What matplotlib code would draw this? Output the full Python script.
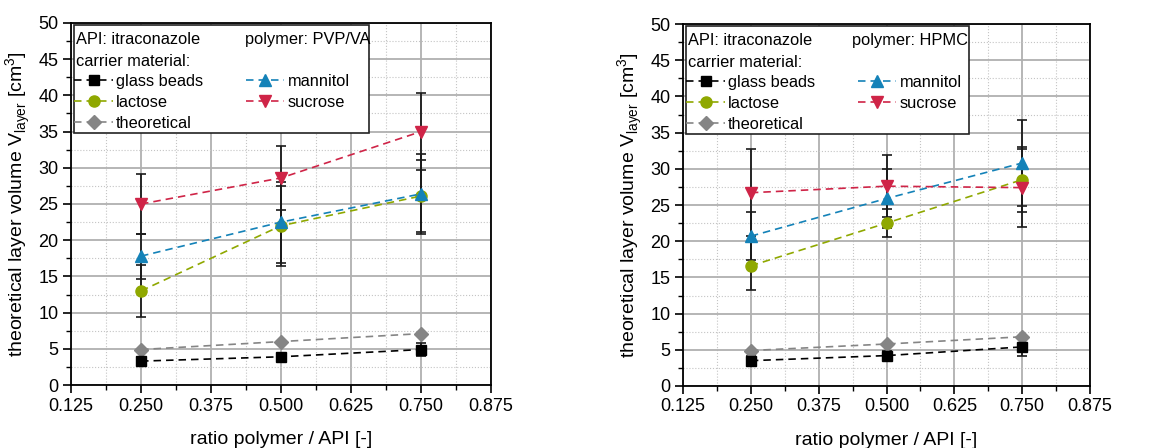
import matplotlib.pyplot as plt
from matplotlib.patches import Rectangle
from matplotlib.ticker import MultipleLocator, FormatStrFormatter

plt.rcParams['font.family'] = ['Liberation Sans', 'DejaVu Sans']
plt.rcParams['mathtext.fontset'] = 'custom'
plt.rcParams['mathtext.rm'] = 'Liberation Sans'

# ratio polymer / API
ratio = [0.25, 0.5, 0.75]

# PVP/VA panel
pvp_glass = [3.3, 3.9, 4.9]
pvp_glass_err = [0.5, 0.4, 0.9]
pvp_lactose = [13.0, 22.0, 26.1]
pvp_lactose_err = [3.6, 5.5, 5.0]
pvp_mannitol = [17.8, 22.5, 26.4]
pvp_mannitol_err = [3.1, 5.6, 5.5]
pvp_sucrose = [25.0, 28.6, 35.0]
pvp_sucrose_err = [4.1, 4.4, 5.3]
pvp_theo = [4.9, 6.0, 7.1]

# HPMC panel
hpmc_glass = [3.5, 4.2, 5.4]
hpmc_glass_err = [0.7, 0.6, 1.3]
hpmc_lactose = [16.6, 22.5, 28.5]
hpmc_lactose_err = [3.4, 1.9, 4.5]
hpmc_mannitol = [20.7, 25.9, 30.8]
hpmc_mannitol_err = [3.3, 4.1, 5.9]
hpmc_sucrose = [26.7, 27.6, 27.4]
hpmc_sucrose_err = [6.0, 4.3, 5.4]
hpmc_theo = [4.9, 5.8, 6.8]

c_glass = '#000000'
c_lac = '#8fa800'
c_man = '#1482b8'
c_suc = '#cf2447'
c_theo = '#858585'

fig = plt.figure(figsize=(11.61, 4.48), dpi=100)
ax1 = fig.add_axes([0.0612, 0.1406, 0.3617, 0.8081])
ax2 = fig.add_axes([0.5883, 0.1384, 0.3506, 0.8080])


def panel(ax, glass, glass_e, lac, lac_e, man, man_e, suc, suc_e, theo, polymer, box_w):
    ax.set_axisbelow(True)
    ax.grid(which='major', color='#b0b0b0', lw=1.3, ls='-')
    ax.grid(which='minor', color='#c4c4c4', lw=0.8, ls=':')
    ekw = dict(ecolor='#1a1a1a', elinewidth=1.3, capsize=3.5, capthick=1.2)
    lkw = dict(ls=(0, (4.5, 3)), lw=1.2)
    h_glass = ax.errorbar(ratio, glass, yerr=glass_e, color=c_glass, marker='s', ms=7, **lkw, **ekw, zorder=5)
    h_lac = ax.errorbar(ratio, lac, yerr=lac_e, color=c_lac, marker='o', ms=8, **lkw, **ekw, zorder=5)
    h_man = ax.errorbar(ratio, man, yerr=man_e, color=c_man, marker='^', ms=9, **lkw, **ekw, zorder=5)
    h_suc = ax.errorbar(ratio, suc, yerr=suc_e, color=c_suc, marker='v', ms=9, **lkw, **ekw, zorder=5)
    h_theo, = ax.plot(ratio, theo, color=c_theo, marker='D', ms=7, **lkw, zorder=5)

    ax.set_xlim(0.125, 0.875)
    ax.set_ylim(0, 50)
    ax.xaxis.set_major_locator(MultipleLocator(0.125))
    ax.xaxis.set_minor_locator(MultipleLocator(0.0625))
    ax.xaxis.set_major_formatter(FormatStrFormatter('%.3f'))
    ax.yaxis.set_major_locator(MultipleLocator(5))
    ax.yaxis.set_minor_locator(MultipleLocator(2.5))
    ax.tick_params(which='major', direction='out', length=6, width=1.2, labelsize=13, pad=3)
    ax.tick_params(which='minor', direction='out', length=3.5, width=1.0)
    for s in ax.spines.values():
        s.set_linewidth(1.3)
    ax.set_xlabel('ratio polymer / API [-]', fontsize=14, labelpad=12)
    ax.set_ylabel(r'theoretical layer volume V$_\mathregular{layer}$ [cm$^\mathregular{3}$]',
                  fontsize=14, labelpad=4)

    # legend box with header text
    ax.add_patch(Rectangle((0.007, 0.696), box_w, 0.298, transform=ax.transAxes,
                           facecolor='white', edgecolor='#222222', lw=1.2, zorder=6))
    ax.text(0.012, 0.954, 'API: itraconazole', transform=ax.transAxes, fontsize=11.8,
            va='center', ha='left', zorder=7)
    ax.text(0.414, 0.954, 'polymer: ' + polymer, transform=ax.transAxes, fontsize=11.8,
            va='center', ha='left', zorder=7)
    ax.text(0.012, 0.894, 'carrier material:', transform=ax.transAxes, fontsize=11.8,
            va='center', ha='left', zorder=7)
    handles = [h_glass.lines[0], h_lac.lines[0], h_theo, h_man.lines[0], h_suc.lines[0]]
    leg = ax.legend(handles, ['glass beads', 'lactose', 'theoretical', 'mannitol', 'sucrose'],
                    ncol=2, frameon=False, fontsize=11.8, loc='upper left',
                    bbox_to_anchor=(0.0, 0.868), borderaxespad=0, borderpad=0.2,
                    handlelength=2.35, handletextpad=0.2, labelspacing=0.37,
                    columnspacing=2.6)
    leg.set_zorder(8)


panel(ax1, pvp_glass, pvp_glass_err, pvp_lactose, pvp_lactose_err, pvp_mannitol,
      pvp_mannitol_err, pvp_sucrose, pvp_sucrose_err, pvp_theo, 'PVP/VA', 0.703)
panel(ax2, hpmc_glass, hpmc_glass_err, hpmc_lactose, hpmc_lactose_err, hpmc_mannitol,
      hpmc_mannitol_err, hpmc_sucrose, hpmc_sucrose_err, hpmc_theo, 'HPMC', 0.695)

fig.savefig('out.png', dpi=100)
